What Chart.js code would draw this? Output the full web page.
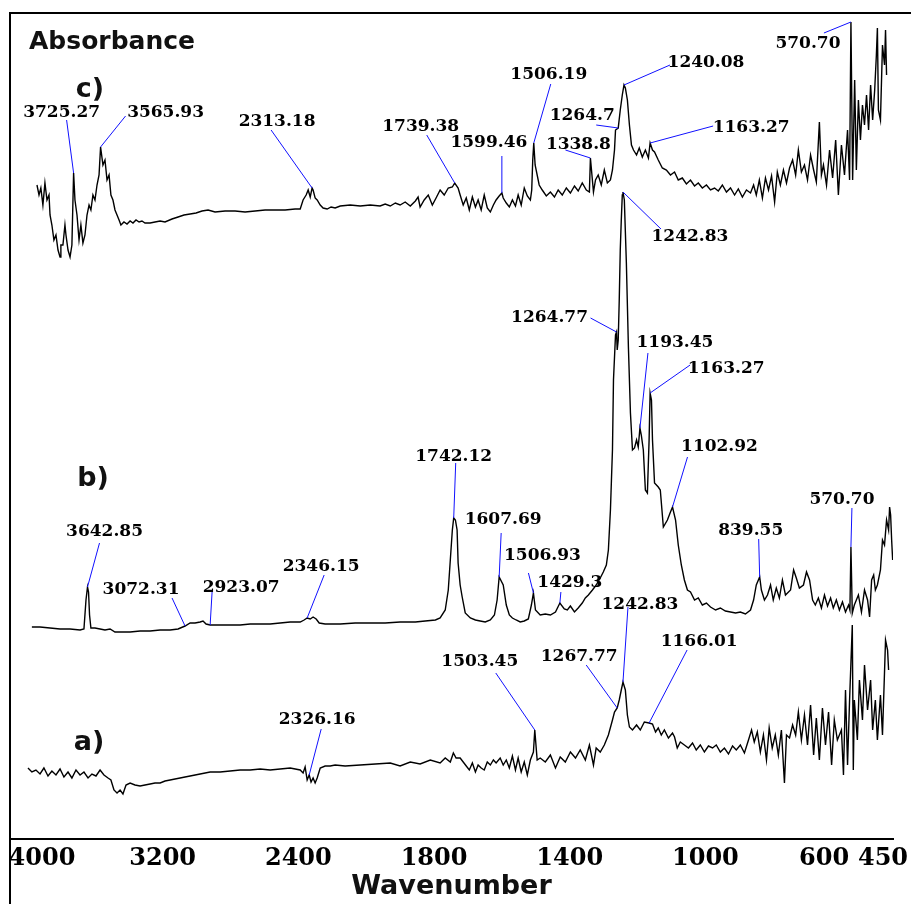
<!DOCTYPE html>
<html>
<head>
<meta charset="utf-8">
<script src="https://cdn.jsdelivr.net/npm/chart.js@4.4.1/dist/chart.umd.min.js"></script>
<style>
html,body{margin:0;padding:0;background:#fff;}
#wrap{width:911px;height:904px;position:relative;}
</style>
</head>
<body>
<div id="wrap"><canvas id="c" width="911" height="904" style="width:911px;height:904px"></canvas></div>
<script>
// ---------------- DATA ----------------
// X axis tick labels (wavenumber, cm-1)
const xTicks = [4000, 3200, 2400, 1800, 1400, 1000, 600, 450];
const seriesTags = ['a)', 'b)', 'c)'];

// Spectrum a) : wavenumber / absorbance (offset, a.u.)
const wnA = [
3994,3971,3947,3923,3900,3876,3853,3829,3805,3782,
3758,3735,3711,3687,3664,3640,3617,3593,3569,3546,
3522,3505,3487,3469,3451,3434,3416,3392,3363,3333,
3304,3274,3245,3215,3186,3156,3127,3097,3068,3038,
2979,2920,2861,2802,2743,2684,2625,2566,2507,2448,
2389,2372,2360,2348,2336,2325,2313,2301,2289,2271,
2242,2212,2183,2124,2035,1973,1929,1900,1870,1841,
1811,1782,1767,1752,1743,1735,1723,1714,1705,1696,
1687,1678,1670,1661,1652,1643,1634,1625,1617,1605,
1596,1587,1578,1569,1560,1552,1543,1534,1525,1516,
1507,1503,1496,1487,1472,1457,1442,1428,1413,1398,
1383,1369,1354,1342,1330,1322,1310,1298,1286,1274,
1268,1260,1254,1248,1243,1236,1230,1224,1215,1203,
1192,1180,1166,1156,1147,1139,1130,1121,1109,1097,
1091,1083,1074,1062,1050,1038,1027,1015,1003,991,
979,968,956,944,932,920,909,897,885,873,
864,856,847,838,829,820,812,803,794,785,
776,767,761,752,743,734,726,717,708,699,
690,681,673,664,655,646,637,628,620,611,
599,593,587,581,575,567,564,561,552,546,
537,531,522,513,507,499,493,484,478,472,
469,463,460];
const absA = [
0.71,0.67,0.69,0.65,0.71,0.63,0.68,0.64,0.70,0.62,
0.67,0.61,0.69,0.64,0.67,0.61,0.65,0.63,0.69,0.64,
0.61,0.59,0.49,0.46,0.49,0.45,0.54,0.56,0.54,0.53,
0.54,0.55,0.56,0.56,0.58,0.59,0.60,0.61,0.62,0.63,
0.65,0.67,0.67,0.68,0.69,0.69,0.70,0.69,0.70,0.71,
0.69,0.66,0.72,0.59,0.64,0.57,0.61,0.56,0.61,0.71,
0.73,0.73,0.74,0.73,0.74,0.75,0.76,0.73,0.77,0.75,
0.79,0.76,0.81,0.77,0.86,0.81,0.81,0.77,0.73,0.69,
0.76,0.67,0.74,0.71,0.69,0.77,0.74,0.79,0.76,0.81,
0.74,0.79,0.71,0.83,0.69,0.81,0.67,0.77,0.64,0.79,
0.87,1.09,0.79,0.81,0.77,0.84,0.71,0.82,0.77,0.87,
0.81,0.89,0.79,0.94,0.74,0.91,0.87,0.94,1.04,1.19,
1.27,1.31,1.39,1.49,1.57,1.49,1.24,1.12,1.09,1.14,
1.09,1.17,1.16,1.15,1.07,1.11,1.04,1.09,1.01,1.06,
1.02,0.91,0.97,0.94,0.91,0.96,0.89,0.94,0.87,0.93,
0.91,0.94,0.87,0.91,0.85,0.93,0.89,0.94,0.86,0.99,
1.09,0.97,1.07,0.87,1.04,0.79,1.11,0.91,1.04,0.84,
1.09,0.56,1.04,1.01,1.14,1.04,1.27,0.99,1.24,0.94,
1.34,0.84,1.21,0.79,1.31,0.94,1.27,0.74,1.19,0.99,
1.09,0.64,1.49,0.74,1.39,2.14,0.69,1.39,0.99,1.59,
1.19,1.74,1.29,1.59,1.09,1.39,0.99,1.44,1.04,1.67,
1.99,1.89,1.69];

// Spectrum b)
const wnB = [
3971,3923,3864,3805,3746,3687,3664,3652,3643,3637,
3631,3623,3599,3569,3540,3510,3481,3451,3392,3333,
3274,3215,3156,3109,3068,3038,3009,2979,2962,2944,
2920,2861,2802,2743,2684,2625,2566,2507,2448,2389,
2366,2348,2330,2313,2295,2277,2242,2153,2065,1988,
1944,1900,1855,1826,1796,1782,1767,1758,1752,1746,
1742,1737,1732,1729,1723,1717,1708,1693,1678,1664,
1649,1634,1622,1614,1608,1596,1587,1578,1569,1558,
1546,1534,1522,1513,1507,1501,1487,1472,1457,1442,
1429,1416,1407,1398,1386,1375,1363,1354,1345,1333,
1322,1310,1301,1292,1286,1280,1277,1274,1271,1265,
1262,1260,1257,1254,1251,1248,1245,1243,1239,1233,
1227,1221,1215,1209,1203,1198,1193,1189,1183,1177,
1171,1166,1163,1159,1156,1150,1139,1133,1124,1112,
1103,1097,1088,1080,1071,1062,1053,1044,1032,1021,
1009,997,985,970,956,941,926,911,897,882,
867,858,850,840,835,826,817,808,800,791,
782,773,764,749,740,732,723,711,702,693,
684,676,667,658,649,640,631,623,614,605,
596,587,578,574,571,567,561,549,540,531,
522,516,510,504,499,493,484,478,472,466,
460,457,454,451,448];
const absB = [
2.12,2.12,2.11,2.10,2.10,2.09,2.10,2.39,2.52,2.47,
2.24,2.11,2.11,2.10,2.09,2.10,2.07,2.07,2.07,2.08,
2.08,2.09,2.09,2.10,2.13,2.16,2.16,2.17,2.18,2.15,
2.14,2.14,2.14,2.14,2.15,2.15,2.15,2.16,2.17,2.17,
2.19,2.21,2.20,2.22,2.20,2.16,2.15,2.15,2.16,2.16,
2.16,2.17,2.17,2.18,2.19,2.21,2.29,2.49,2.79,3.09,
3.21,3.19,3.09,2.76,2.54,2.42,2.26,2.21,2.19,2.18,
2.17,2.19,2.24,2.39,2.62,2.54,2.34,2.24,2.21,2.19,
2.17,2.18,2.20,2.34,2.46,2.29,2.24,2.25,2.24,2.27,
2.36,2.30,2.29,2.33,2.27,2.31,2.36,2.41,2.44,2.49,
2.54,2.61,2.67,2.74,2.89,3.29,3.59,3.89,4.59,5.04,
5.07,4.89,4.99,5.39,5.89,6.19,6.44,6.47,6.39,5.76,
4.92,4.26,3.89,3.91,3.99,3.92,4.11,4.04,3.89,3.49,
3.46,3.99,4.46,4.39,3.99,3.56,3.52,3.49,3.12,3.19,
3.27,3.32,3.19,2.94,2.74,2.59,2.49,2.47,2.39,2.41,
2.34,2.36,2.32,2.29,2.31,2.28,2.27,2.26,2.27,2.25,
2.29,2.39,2.54,2.62,2.49,2.39,2.44,2.54,2.39,2.51,
2.41,2.59,2.44,2.49,2.69,2.61,2.51,2.54,2.67,2.59,
2.39,2.34,2.41,2.31,2.44,2.33,2.41,2.31,2.39,2.29,
2.37,2.27,2.34,2.29,2.92,2.26,2.34,2.44,2.27,2.49,
2.39,2.22,2.59,2.64,2.49,2.54,2.69,2.99,2.94,3.19,
3.09,3.32,3.24,2.99,2.79];

// Spectrum c)
const wnC = [
3941,3929,3918,3906,3894,3882,3870,3864,3853,3841,
3829,3817,3805,3800,3788,3776,3770,3758,3746,3735,
3725,3717,3705,3693,3682,3670,3658,3646,3634,3623,
3611,3599,3587,3575,3566,3552,3540,3528,3516,3505,
3493,3481,3469,3457,3446,3428,3410,3392,3375,3357,
3339,3322,3304,3274,3245,3215,3186,3145,3109,3074,
3038,3003,2968,2932,2891,2832,2773,2714,2655,2596,
2537,2478,2419,2389,2372,2354,2342,2330,2319,2313,
2301,2289,2271,2254,2230,2207,2183,2153,2094,2035,
1988,1959,1944,1929,1914,1900,1885,1870,1855,1847,
1841,1829,1817,1805,1794,1782,1770,1758,1746,1739,
1729,1723,1714,1705,1696,1687,1678,1670,1661,1652,
1643,1634,1625,1617,1608,1600,1596,1587,1578,1569,
1560,1552,1543,1534,1525,1516,1512,1509,1506,1502,
1490,1481,1469,1457,1445,1434,1422,1410,1398,1386,
1375,1363,1351,1342,1339,1330,1324,1316,1307,1298,
1289,1280,1274,1268,1265,1257,1251,1245,1240,1236,
1230,1224,1218,1212,1203,1195,1186,1177,1168,1163,
1156,1150,1139,1127,1115,1103,1091,1080,1068,1056,
1044,1032,1021,1009,997,985,973,962,950,938,
926,914,903,891,879,867,858,850,841,832,
823,814,805,796,788,779,770,761,752,743,
734,726,717,708,699,690,681,673,664,658,
652,643,634,625,616,608,599,590,581,575,
571,566,560,555,549,543,537,531,525,519,
513,507,501,496,493,490,484,478,472,469,
466];
const absC = [
6.54,6.44,6.51,6.34,6.56,6.39,6.44,6.24,6.14,5.99,
6.04,5.89,5.82,5.94,5.94,6.14,6.04,5.89,5.82,5.94,
6.66,6.39,6.24,5.99,6.14,5.96,6.04,6.24,6.34,6.29,
6.44,6.39,6.54,6.64,6.92,6.74,6.79,6.59,6.64,6.44,
6.39,6.29,6.24,6.19,6.14,6.17,6.15,6.18,6.16,6.19,
6.17,6.18,6.16,6.16,6.17,6.18,6.17,6.20,6.22,6.24,
6.25,6.26,6.28,6.29,6.27,6.28,6.28,6.27,6.28,6.29,
6.29,6.29,6.30,6.30,6.39,6.44,6.49,6.42,6.51,6.49,
6.41,6.39,6.34,6.31,6.30,6.32,6.31,6.33,6.34,6.33,
6.34,6.33,6.35,6.33,6.36,6.34,6.37,6.33,6.38,6.42,
6.32,6.39,6.44,6.34,6.41,6.49,6.44,6.51,6.52,6.56,
6.51,6.44,6.34,6.41,6.29,6.42,6.32,6.39,6.29,6.44,
6.31,6.27,6.34,6.39,6.43,6.46,6.41,6.36,6.32,6.39,
6.33,6.44,6.34,6.51,6.43,6.39,6.49,6.79,6.96,6.74,
6.54,6.49,6.43,6.47,6.42,6.49,6.44,6.51,6.46,6.53,
6.48,6.56,6.49,6.47,6.81,6.47,6.59,6.64,6.54,6.69,
6.56,6.59,6.69,6.89,7.09,7.11,7.29,7.44,7.54,7.51,
7.39,7.14,6.94,6.89,6.84,6.91,6.82,6.89,6.81,6.96,
6.89,6.87,6.79,6.71,6.69,6.64,6.67,6.59,6.61,6.55,
6.59,6.53,6.56,6.51,6.54,6.49,6.51,6.48,6.54,6.47,
6.51,6.44,6.50,6.42,6.49,6.46,6.54,6.44,6.59,6.41,
6.61,6.49,6.63,6.37,6.67,6.54,6.69,6.56,6.71,6.79,
6.64,6.89,6.67,6.74,6.59,6.84,6.69,6.57,7.17,6.64,
6.74,6.54,6.89,6.61,6.99,6.44,6.94,6.64,7.09,6.59,
8.17,6.59,7.59,6.69,7.39,6.99,7.34,7.14,7.44,7.09,
7.54,7.19,7.49,7.84,8.11,7.29,7.19,7.94,7.74,8.09,
7.64];

// Peak labels (text is the peak wavenumber)
const peaksA = ['2326.16','1503.45','1267.77','1242.83','1166.01'];
const peaksB = ['3642.85','3072.31','2923.07','2346.15','1742.12','1607.69','1506.93','1429.3',
                '1264.77','1242.83','1193.45','1163.27','1102.92','839.55','570.70'];
const peaksC = ['3725.27','3565.93','2313.18','1739.38','1599.46','1506.19','1338.8','1264.7',
                '1240.08','1163.27','570.70'];

// ---------------- LAYOUT (pixel offsets of callouts: line end dx,dy ; text dx,dy) ----------------
const layoutA = [[12,-46,8,-55],[-39,-57,-55,-68],[-31,-43,-38,-51],[5,-75,17,-77],[38,-73,50,-81]];
const layoutB = [[12,-44,17,-55],[-13,-28,-44,-36],[2,-34,31,-37],[17,-43,14,-51],[2,-55,0,-61],
                 [2,-44,4,-57],[-5,-20,9,-37],[1,-11,10,-20],[-26,-14,-67,-14],[38,37,67,45],
                 [8,-75,35,-85],[40,-28,76,-24],[15,-50,47,-60],[-1,-38,-9,-46],[1,-39,-9,-47]];
const layoutC = [[-7,-53,-12,-60],[25,-31,65,-34],[-41,-58,-35,-66],[-28,-48,-34,-56],[0,-37,-13,-50],
                 [17,-59,15,-68],[-25,-8,-12,-13],[-22,-3,-36,-12],[46,-20,82,-22],[63,-17,101,-15],
                 [-27,11,-43,22]];
const tagPos = [[89,743],[93,479],[90,90]];
const tickShift = {'4000': 15, '600': -17, '450': -9};

// ---------------- SCALE: FTIR axis with 2x expansion below 2000 cm-1 ----------------
const BREAK = 2000;
const toU = w => (w > BREAK ? BREAK + (w - BREAK) / 2 : w);
const fromU = u => (u > BREAK ? BREAK + (u - BREAK) * 2 : u);

class WavenumberScale extends Chart.LinearScale {
  buildTicks() { return xTicks.map(v => ({ value: v })); }
  getPixelForValue(v) {
    if (v === null || v === undefined || isNaN(v)) return NaN;
    const a = toU(this.min), b = toU(this.max);
    return this.getPixelForDecimal((toU(v) - a) / (b - a));
  }
  getValueForPixel(p) {
    const a = toU(this.min), b = toU(this.max);
    return fromU(a + this.getDecimalForPixel(p) * (b - a));
  }
  _computeLabelItems(area) {
    const items = super._computeLabelItems(area);
    items.forEach(it => {
      const d = tickShift[String(it.label)];
      if (d && it.options && it.options.translation) it.options.translation[0] += d;
    });
    return items;
  }
}
WavenumberScale.id = 'wavenumber';
WavenumberScale.defaults = Chart.LinearScale.defaults;
Chart.register(WavenumberScale);

const zip = (xs, ys) => xs.map((x, i) => ({ x: x, y: ys[i] }));

const calloutSets = [
  { dataset: 0, labels: peaksA, layout: layoutA },
  { dataset: 1, labels: peaksB, layout: layoutB },
  { dataset: 2, labels: peaksC, layout: layoutC }
];

const calloutPlugin = {
  id: 'callouts',
  afterDatasetsDraw(chart) {
    const { ctx } = chart;
    const x = chart.scales.x, y = chart.scales.y;
    ctx.save();
    const texts = [];
    calloutSets.forEach(set => {
      const ds = chart.data.datasets[set.dataset].data;
      set.labels.forEach((label, i) => {
        const px = x.getPixelForValue(parseFloat(label));
        let best = null;
        ds.forEach(p => {
          if (Math.abs(x.getPixelForValue(p.x) - px) <= 3 && (!best || p.y > best.y)) best = p;
        });
        if (!best) return;
        const bx = x.getPixelForValue(best.x), by = y.getPixelForValue(best.y);
        const L = set.layout[i];
        ctx.strokeStyle = '#1010ff';
        ctx.lineWidth = 1;
        ctx.beginPath();
        ctx.moveTo(bx, by);
        ctx.lineTo(bx + L[0], by + L[1]);
        ctx.stroke();
        texts.push([label, bx + L[2], by + L[3]]);
      });
    });
    ctx.fillStyle = '#000';
    ctx.font = 'bold 17px "DejaVu Serif"';
    ctx.textAlign = 'center';
    ctx.textBaseline = 'middle';
    texts.forEach(t => ctx.fillText(t[0], t[1], t[2]));
    ctx.restore();
  },
  afterDraw(chart) {
    const { ctx, chartArea } = chart;
    ctx.save();
    // frame (left + top)
    ctx.strokeStyle = '#000';
    ctx.lineWidth = 2;
    ctx.beginPath();
    ctx.moveTo(chartArea.left, chart.height);
    ctx.lineTo(chartArea.left, chartArea.top);
    ctx.lineTo(chart.width, chartArea.top);
    ctx.stroke();
    // tags
    ctx.fillStyle = '#111';
    ctx.textAlign = 'center';
    ctx.textBaseline = 'middle';
    ctx.font = 'bold 27px "DejaVu Sans"';
    seriesTags.forEach((t, i) => ctx.fillText(t, tagPos[i][0], tagPos[i][1]));
    ctx.font = 'bold 25px "DejaVu Sans"';
    ctx.fillText('Absorbance', 112, 42);
    ctx.restore();
  }
};

const lineStyle = { borderColor: '#000', borderWidth: 1.4, pointRadius: 0, tension: 0, fill: false };

new Chart(document.getElementById('c'), {
  type: 'line',
  data: {
    datasets: [
      Object.assign({ label: seriesTags[0], data: zip(wnA, absA) }, lineStyle),
      Object.assign({ label: seriesTags[1], data: zip(wnB, absB) }, lineStyle),
      Object.assign({ label: seriesTags[2], data: zip(wnC, absC) }, lineStyle)
    ]
  },
  options: {
    responsive: false,
    animation: false,
    events: [],
    parsing: true,
    layout: { padding: { left: 10, top: 13, right: 18, bottom: 0 } },
    plugins: { legend: { display: false }, tooltip: { enabled: false }, title: { display: false } },
    scales: {
      x: {
        type: 'wavenumber',
        min: 447, max: 4100, reverse: true,
        grid: { display: false, drawTicks: false },
        border: { display: true, color: '#000', width: 2 },
        ticks: {
          autoSkip: false, maxRotation: 0, minRotation: 0, padding: 5, color: '#000',
          font: { family: 'DejaVu Serif', weight: 'bold', size: 24 },
          callback: v => String(v)
        },
        title: {
          display: true, text: 'Wavenumber', color: '#111',
          font: { family: 'DejaVu Sans', weight: 'bold', size: 27 },
          padding: { top: 0, bottom: 1 }
        },
        afterFit: s => { s.height = 65; s.paddingLeft = 0; s.paddingRight = 0; }
      },
      y: { display: false, min: 0, max: 8.26 }
    }
  },
  plugins: [calloutPlugin]
});
</script>
</body>
</html>
